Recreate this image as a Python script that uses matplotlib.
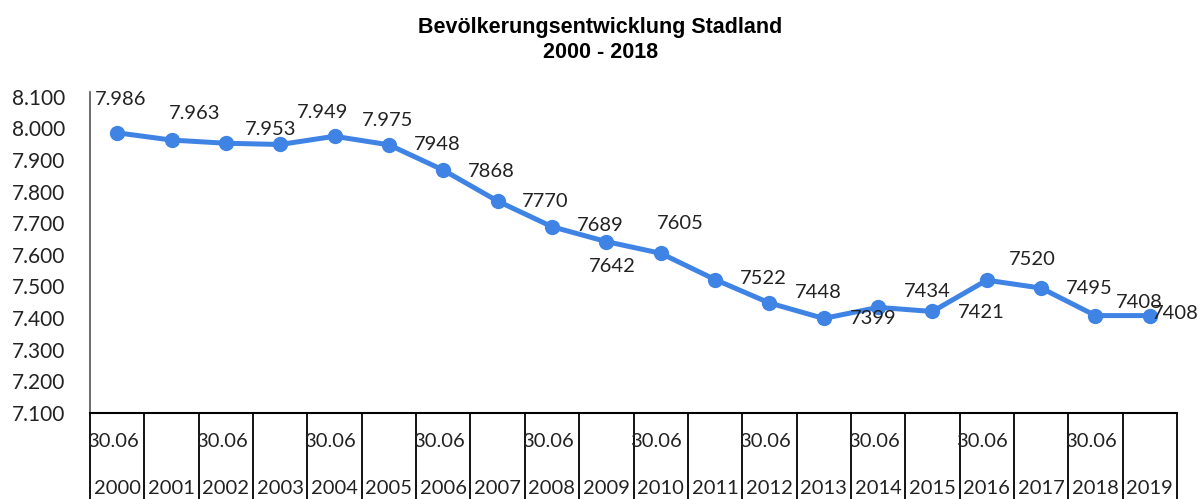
import matplotlib
matplotlib.use('Agg')
import matplotlib.pyplot as plt
import matplotlib.transforms as mtransforms
from matplotlib.ticker import FuncFormatter, MultipleLocator

# data
jahre = [str(j) for j in range(2000, 2020)]
stichtag = ['30.06', '', '30.06', '', '30.06', '', '30.06', '', '30.06', '',
            '30.06', '', '30.06', '', '30.06', '', '30.06', '', '30.06', '']
einwohner = [7986, 7963, 7953, 7949, 7975, 7948, 7868, 7770, 7689, 7642,
             7605, 7522, 7448, 7399, 7434, 7421, 7520, 7495, 7408, 7408]
beschriftung = ['7.986', '7.963', '7.953', '7.949', '7.975', '7948', '7868', '7770', '7689', '7642',
                '7605', '7522', '7448', '7399', '7434', '7421', '7520', '7495', '7408', '7408']

# where each data label sits relative to its point (pixels, right / up)
label_offsets = [(3, 33), (23, 27), (45, 14), (42, 32), (53, 16), (48, 0), (48, -1), (48, 0),
                 (48, 1), (6, -25), (20, 30), (48, 1), (49, 10), (49, 0), (49, 16), (49, -1),
                 (46, 21), (48, 0), (44, 13), (25, 2)]

plt.rcParams['font.family'] = ['Lato', 'DejaVu Sans']
blau = '#3F84E4'

fig = plt.figure(figsize=(12.01, 4.99), dpi=100)
ax = fig.add_axes([90 / 1201, 1 - 413 / 499, (1177 - 90) / 1201, (413 - 92) / 499])

x = list(range(len(einwohner)))
ax.plot(x, einwohner, color=blau, lw=3.6, marker='o', markersize=10, zorder=3)

for i, (v, txt) in enumerate(zip(einwohner, beschriftung)):
    dx, dy = label_offsets[i]
    ax.annotate(txt, xy=(i, v), xytext=(dx, dy), textcoords='offset pixels',
                ha='center', va='center', fontsize=14.5, color='#222222',
                annotation_clip=False, zorder=4)

ax.set_xlim(-0.5, len(einwohner) - 0.5)
ax.set_ylim(7100, 8115)
ax.yaxis.set_major_locator(MultipleLocator(100))
ax.yaxis.set_major_formatter(FuncFormatter(lambda v, p: f'{v:,.0f}'.replace(',', '.') if v <= 8100 else ''))
ax.tick_params(axis='y', length=0, pad=18, labelsize=15, labelcolor='#222222')
ax.set_xticks([])

for s in ['top', 'right']:
    ax.spines[s].set_visible(False)
ax.spines['left'].set_color('#555555')
ax.spines['left'].set_linewidth(1.2)
ax.spines['bottom'].set_color('black')
ax.spines['bottom'].set_linewidth(1.5)

# table below the axis
trans = mtransforms.blended_transform_factory(ax.transData, ax.transAxes)
for i in range(len(jahre) + 1):
    ax.plot([i - 0.5, i - 0.5], [0, -0.3], transform=trans, color='black', lw=1.3, clip_on=False)
for i, (st, jr) in enumerate(zip(stichtag, jahre)):
    if st:
        ax.annotate(st, xy=(i - 0.5, -0.09), xycoords=trans, xytext=(-3, 0),
                    textcoords='offset pixels', ha='left', va='center', fontsize=14.5,
                    color='#222222', annotation_clip=False)
    ax.text(i, -0.234, jr, transform=trans, ha='center', va='center', fontsize=14.5,
            color='#222222', clip_on=False)

fig.text(0.5, 1 - 28 / 499, 'Bevölkerungsentwicklung Stadland', ha='center', va='center',
         fontsize=15.5, fontweight='bold', family='Liberation Sans')
fig.text(0.5, 1 - 52 / 499, '2000 - 2018', ha='center', va='center',
         fontsize=15.5, fontweight='bold', family='Liberation Sans')

fig.savefig('out.png', dpi=100)
